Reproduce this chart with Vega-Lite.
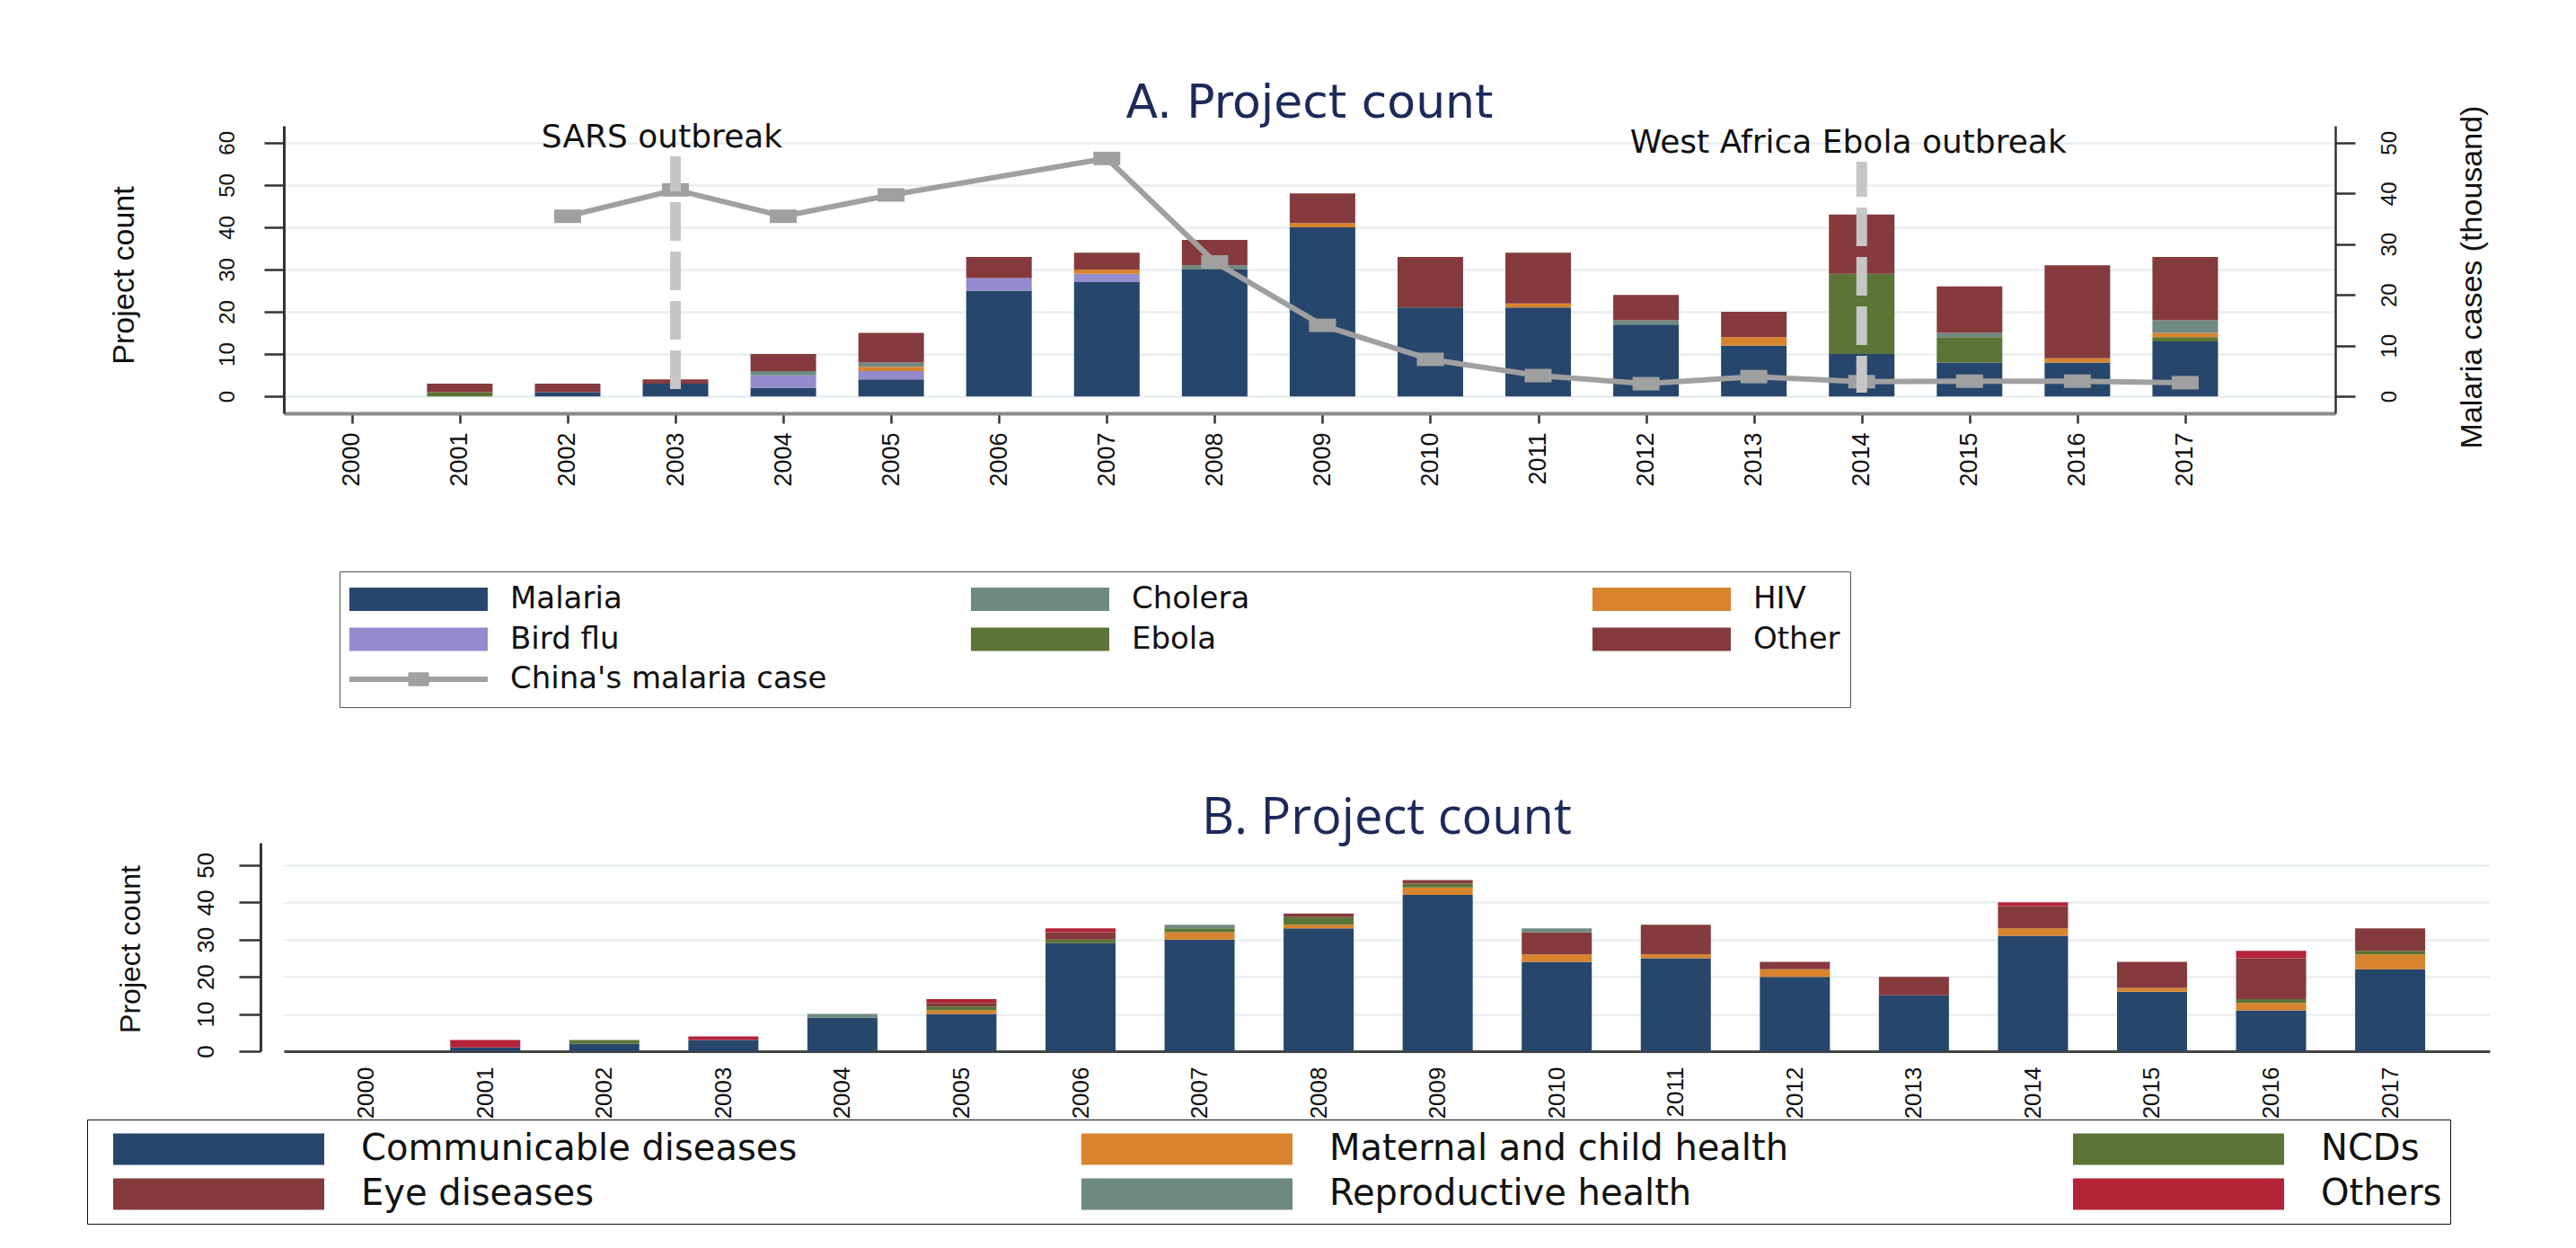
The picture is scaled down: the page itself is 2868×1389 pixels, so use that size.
{
  "$schema": "https://vega.github.io/schema/vega-lite/v6.json",
  "background": "white",
  "padding": {"left": 96, "top": 89, "right": 30, "bottom": 20},
  "bounds": "flush",
  "spacing": 478,
  "config": {
    "view": {"stroke": null},
    "font": "Liberation Sans",
    "axis": {"labelFont": "Liberation Sans", "titleFont": "Liberation Sans", "labelColor": "#111111", "titleColor": "#111111", "titleFontWeight": "normal", "labelOverlap": false, "labelFlush": false}
  },
  "resolve": {"scale": {"color": "independent"}, "legend": {"color": "independent"}},
  "datasets": {
    "rankA": [
      {"disease": "Malaria", "rank": 1}, {"disease": "Bird flu", "rank": 2}, {"disease": "Ebola", "rank": 3},
      {"disease": "HIV", "rank": 4}, {"disease": "Cholera", "rank": 5}, {"disease": "Other", "rank": 6}
    ],
    "rankB": [
      {"area": "Communicable diseases", "rank": 1}, {"area": "Maternal and child health", "rank": 2}, {"area": "NCDs", "rank": 3},
      {"area": "Eye diseases", "rank": 4}, {"area": "Reproductive health", "rank": 5}, {"area": "Others", "rank": 6}
    ],
    "projectsA": [
      {"year": 2001, "disease": "Ebola", "n": 1}, {"year": 2001, "disease": "Other", "n": 2},
      {"year": 2002, "disease": "Malaria", "n": 1}, {"year": 2002, "disease": "Other", "n": 2},
      {"year": 2003, "disease": "Malaria", "n": 3}, {"year": 2003, "disease": "Other", "n": 1},
      {"year": 2004, "disease": "Malaria", "n": 2}, {"year": 2004, "disease": "Bird flu", "n": 3}, {"year": 2004, "disease": "Cholera", "n": 1}, {"year": 2004, "disease": "Other", "n": 4},
      {"year": 2005, "disease": "Malaria", "n": 4}, {"year": 2005, "disease": "Bird flu", "n": 2}, {"year": 2005, "disease": "HIV", "n": 1}, {"year": 2005, "disease": "Cholera", "n": 1}, {"year": 2005, "disease": "Other", "n": 7},
      {"year": 2006, "disease": "Malaria", "n": 25}, {"year": 2006, "disease": "Bird flu", "n": 3}, {"year": 2006, "disease": "Other", "n": 5},
      {"year": 2007, "disease": "Malaria", "n": 27}, {"year": 2007, "disease": "Bird flu", "n": 2}, {"year": 2007, "disease": "HIV", "n": 1}, {"year": 2007, "disease": "Other", "n": 4},
      {"year": 2008, "disease": "Malaria", "n": 30}, {"year": 2008, "disease": "Cholera", "n": 1}, {"year": 2008, "disease": "Other", "n": 6},
      {"year": 2009, "disease": "Malaria", "n": 40}, {"year": 2009, "disease": "HIV", "n": 1}, {"year": 2009, "disease": "Other", "n": 7},
      {"year": 2010, "disease": "Malaria", "n": 21}, {"year": 2010, "disease": "Other", "n": 12},
      {"year": 2011, "disease": "Malaria", "n": 21}, {"year": 2011, "disease": "HIV", "n": 1}, {"year": 2011, "disease": "Other", "n": 12},
      {"year": 2012, "disease": "Malaria", "n": 17}, {"year": 2012, "disease": "Cholera", "n": 1}, {"year": 2012, "disease": "Other", "n": 6},
      {"year": 2013, "disease": "Malaria", "n": 12}, {"year": 2013, "disease": "HIV", "n": 2}, {"year": 2013, "disease": "Other", "n": 6},
      {"year": 2014, "disease": "Malaria", "n": 10}, {"year": 2014, "disease": "Ebola", "n": 19}, {"year": 2014, "disease": "Other", "n": 14},
      {"year": 2015, "disease": "Malaria", "n": 8}, {"year": 2015, "disease": "Ebola", "n": 6}, {"year": 2015, "disease": "Cholera", "n": 1}, {"year": 2015, "disease": "Other", "n": 11},
      {"year": 2016, "disease": "Malaria", "n": 8}, {"year": 2016, "disease": "HIV", "n": 1}, {"year": 2016, "disease": "Other", "n": 22},
      {"year": 2017, "disease": "Malaria", "n": 13}, {"year": 2017, "disease": "Ebola", "n": 1}, {"year": 2017, "disease": "HIV", "n": 1}, {"year": 2017, "disease": "Cholera", "n": 3}, {"year": 2017, "disease": "Other", "n": 15}
    ],
    "malaria": [
      {"year": 2002, "cases": 35.5, "disease": "China's malaria case"},
      {"year": 2003, "cases": 40.7, "disease": "China's malaria case"},
      {"year": 2004, "cases": 35.5, "disease": "China's malaria case"},
      {"year": 2005, "cases": 39.7, "disease": "China's malaria case"},
      {"year": 2007, "cases": 46.9, "disease": "China's malaria case"},
      {"year": 2008, "cases": 26.5, "disease": "China's malaria case"},
      {"year": 2009, "cases": 14.0, "disease": "China's malaria case"},
      {"year": 2010, "cases": 7.3, "disease": "China's malaria case"},
      {"year": 2011, "cases": 4.1, "disease": "China's malaria case"},
      {"year": 2012, "cases": 2.5, "disease": "China's malaria case"},
      {"year": 2013, "cases": 3.9, "disease": "China's malaria case"},
      {"year": 2014, "cases": 2.9, "disease": "China's malaria case"},
      {"year": 2015, "cases": 3.0, "disease": "China's malaria case"},
      {"year": 2016, "cases": 3.0, "disease": "China's malaria case"},
      {"year": 2017, "cases": 2.7, "disease": "China's malaria case"}
    ],
    "events": [
      {"year": 2003, "from": 1.3, "to": 56.8, "label": "SARS outbreak"},
      {"year": 2014, "from": 0.9, "to": 55.5, "label": "West Africa Ebola outbreak"}
    ],
    "projectsB": [
      {"year": 2001, "area": "Communicable diseases", "n": 1}, {"year": 2001, "area": "Others", "n": 2},
      {"year": 2002, "area": "Communicable diseases", "n": 2}, {"year": 2002, "area": "NCDs", "n": 1},
      {"year": 2003, "area": "Communicable diseases", "n": 3}, {"year": 2003, "area": "Others", "n": 1},
      {"year": 2004, "area": "Communicable diseases", "n": 9}, {"year": 2004, "area": "Reproductive health", "n": 1},
      {"year": 2005, "area": "Communicable diseases", "n": 10}, {"year": 2005, "area": "Maternal and child health", "n": 1}, {"year": 2005, "area": "NCDs", "n": 1}, {"year": 2005, "area": "Eye diseases", "n": 1}, {"year": 2005, "area": "Others", "n": 1},
      {"year": 2006, "area": "Communicable diseases", "n": 29}, {"year": 2006, "area": "NCDs", "n": 1}, {"year": 2006, "area": "Eye diseases", "n": 2}, {"year": 2006, "area": "Others", "n": 1},
      {"year": 2007, "area": "Communicable diseases", "n": 30}, {"year": 2007, "area": "Maternal and child health", "n": 2}, {"year": 2007, "area": "NCDs", "n": 1}, {"year": 2007, "area": "Reproductive health", "n": 1},
      {"year": 2008, "area": "Communicable diseases", "n": 33}, {"year": 2008, "area": "Maternal and child health", "n": 1}, {"year": 2008, "area": "NCDs", "n": 2}, {"year": 2008, "area": "Eye diseases", "n": 1},
      {"year": 2009, "area": "Communicable diseases", "n": 42}, {"year": 2009, "area": "Maternal and child health", "n": 2}, {"year": 2009, "area": "NCDs", "n": 1}, {"year": 2009, "area": "Eye diseases", "n": 1},
      {"year": 2010, "area": "Communicable diseases", "n": 24}, {"year": 2010, "area": "Maternal and child health", "n": 2}, {"year": 2010, "area": "Eye diseases", "n": 6}, {"year": 2010, "area": "Reproductive health", "n": 1},
      {"year": 2011, "area": "Communicable diseases", "n": 25}, {"year": 2011, "area": "Maternal and child health", "n": 1}, {"year": 2011, "area": "Eye diseases", "n": 8},
      {"year": 2012, "area": "Communicable diseases", "n": 20}, {"year": 2012, "area": "Maternal and child health", "n": 2}, {"year": 2012, "area": "Eye diseases", "n": 2},
      {"year": 2013, "area": "Communicable diseases", "n": 15}, {"year": 2013, "area": "Eye diseases", "n": 5},
      {"year": 2014, "area": "Communicable diseases", "n": 31}, {"year": 2014, "area": "Maternal and child health", "n": 2}, {"year": 2014, "area": "Eye diseases", "n": 6}, {"year": 2014, "area": "Others", "n": 1},
      {"year": 2015, "area": "Communicable diseases", "n": 16}, {"year": 2015, "area": "Maternal and child health", "n": 1}, {"year": 2015, "area": "Eye diseases", "n": 7},
      {"year": 2016, "area": "Communicable diseases", "n": 11}, {"year": 2016, "area": "Maternal and child health", "n": 2}, {"year": 2016, "area": "NCDs", "n": 1}, {"year": 2016, "area": "Eye diseases", "n": 11}, {"year": 2016, "area": "Others", "n": 2},
      {"year": 2017, "area": "Communicable diseases", "n": 22}, {"year": 2017, "area": "Maternal and child health", "n": 4}, {"year": 2017, "area": "NCDs", "n": 1}, {"year": 2017, "area": "Eye diseases", "n": 6}
    ]
  },
  "vconcat": [
    {
      "width": 2284,
      "height": 320,
      "title": {"text": "A. Project count", "font": "DejaVu Sans", "fontSize": 52, "fontWeight": "normal", "color": "#1c2a5a", "anchor": "middle", "baseline": "alphabetic", "offset": -66},
      "resolve": {"scale": {"y": "independent"}},
      "layer": [
        {
          "data": {"name": "projectsA"},
          "transform": [{"lookup": "disease", "from": {"data": {"name": "rankA"}, "key": "disease", "fields": ["rank"]}}],
          "mark": {"type": "bar", "width": 73},
          "encoding": {
            "x": {
              "field": "year", "type": "quantitative",
              "scale": {"domain": [1999.41, 2018.35], "nice": false, "zero": false},
              "axis": {"values": [2000, 2001, 2002, 2003, 2004, 2005, 2006, 2007, 2008, 2009, 2010, 2011, 2012, 2013, 2014, 2015, 2016, 2017], "format": "d", "title": null, "grid": false, "labelAngle": 270, "labelAlign": "right", "labelBaseline": "middle", "labelFontSize": 27, "labelPadding": 10, "tickSize": 11, "tickWidth": 2.5, "tickColor": "#333333", "domainColor": "#8a8a8a", "domainWidth": 4}
            },
            "y": {
              "field": "n", "type": "quantitative", "stack": "zero",
              "scale": {"domain": [-4, 64], "nice": false, "zero": false},
              "axis": {"orient": "left", "values": [0, 10, 20, 30, 40, 50, 60], "title": "Project count", "titleFontSize": 34, "titleAngle": 270, "titleX": -178, "titleY": 166, "titleBaseline": "middle", "titleAlign": "center", "labelAngle": 270, "labelAlign": "center", "labelBaseline": "alphabetic", "labelFontSize": 24, "labelPadding": 34, "tickSize": 22, "tickWidth": 2.5, "tickColor": "#333333", "domainColor": "#333333", "domainWidth": 3, "grid": true, "gridColor": "#e8eff1", "gridWidth": 2.5}
            },
            "color": {
              "field": "disease", "type": "nominal",
              "scale": {"domain": ["Malaria", "Bird flu", "Ebola", "HIV", "Cholera", "Other", "China's malaria case"], "range": ["#27466b", "#938bce", "#5a7535", "#d8832e", "#6f8a80", "#853a3e", "#a0a0a0"]},
              "legend": {
                "values": ["Malaria", "Cholera", "HIV", "Bird flu", "Ebola", "Other", "China's malaria case"],
                "orient": "none", "legendX": 62, "legendY": 496,
                "direction": "horizontal", "columns": 3, "gridAlign": "all",
                "title": null,
                "symbolType": "M-1,-0.169L1,-0.169L1,0.169L-1,0.169Z",
                "symbolSize": 23716,
                "symbolStrokeWidth": 0,
                "clipHeight": 40,
                "rowPadding": 4.5, "columnPadding": 160,
                "labelOffset": 25, "labelFont": "DejaVu Sans", "labelFontSize": 34, "labelColor": "#111111", "labelLimit": 2000,
                "padding": 11, "strokeColor": "#555555",
                "encode": {
                  "symbols": {"update": {
                    "shape": {"signal": "datum.value === \"China's malaria case\" ? 'M-1,-0.039L1,-0.039L1,0.039L-1,0.039Z M-0.15,-0.1L0.15,-0.1L0.15,0.1L-0.15,0.1Z' : 'M-1,-0.169L1,-0.169L1,0.169L-1,0.169Z'"},
                    "strokeWidth": {"value": 0},
                    "opacity": {"value": 1}
                  }}
                }
              }
            },
            "order": {"field": "rank", "type": "quantitative", "sort": "ascending"}
          }
        },
        {
          "data": {"name": "malaria"},
          "mark": {"type": "line", "strokeWidth": 6, "point": {"shape": "M-1,-0.5L1,-0.5L1,0.5L-1,0.5Z", "size": 900, "filled": true}},
          "encoding": {
            "x": {"field": "year", "type": "quantitative", "scale": {"domain": [1999.41, 2018.35], "nice": false, "zero": false}},
            "y": {
              "field": "cases", "type": "quantitative",
              "scale": {"domain": [-3.3333, 53.3333], "nice": false, "zero": false},
              "axis": {"orient": "right", "values": [0, 10, 20, 30, 40, 50], "title": "Malaria cases (thousand)", "titleFontSize": 34, "titleAngle": 270, "titleX": 152, "titleY": 168, "titleBaseline": "middle", "titleAlign": "center", "labelAngle": 270, "labelAlign": "center", "labelBaseline": "alphabetic", "labelFontSize": 24, "labelPadding": 45, "tickSize": 22, "tickWidth": 2.5, "tickColor": "#333333", "domainColor": "#333333", "domainWidth": 2.5, "grid": false}
            },
            "color": {"field": "disease", "type": "nominal"}
          }
        },
        {
          "data": {"name": "events"},
          "layer": [
            {
              "mark": {"type": "rule", "strokeWidth": 12, "color": "#c6c6c6", "strokeDash": [43, 12], "strokeDashOffset": 4},
              "encoding": {
                "x": {"field": "year", "type": "quantitative", "scale": {"domain": [1999.41, 2018.35], "nice": false, "zero": false}},
                "y": {"field": "to", "type": "quantitative", "scale": {"domain": [-4, 64], "nice": false, "zero": false}, "axis": null},
                "y2": {"field": "from"}
              }
            },
            {
              "mark": {"type": "text", "font": "DejaVu Sans", "fontSize": 36, "baseline": "alphabetic", "align": "center", "dy": -10, "dx": -15, "color": "#111111"},
              "encoding": {
                "x": {"field": "year", "type": "quantitative"},
                "y": {"field": "to", "type": "quantitative"},
                "text": {"field": "label"}
              }
            }
          ]
        }
      ]
    },
    {
      "width": 2456,
      "height": 232,
      "title": {"text": "B. Project count", "font": "Open Sans", "fontSize": 56, "fontWeight": "normal", "color": "#1c2a5a", "anchor": "middle", "baseline": "alphabetic", "offset": -46},
      "data": {"name": "projectsB"},
      "transform": [{"lookup": "area", "from": {"data": {"name": "rankB"}, "key": "area", "fields": ["rank"]}}],
      "mark": {"type": "bar", "width": 78},
      "encoding": {
        "x": {
          "field": "year", "type": "quantitative",
          "scale": {"domain": [1999.346, 2017.799], "nice": false, "zero": false},
          "axis": {"values": [2000, 2001, 2002, 2003, 2004, 2005, 2006, 2007, 2008, 2009, 2010, 2011, 2012, 2013, 2014, 2015, 2016, 2017], "format": "d", "title": null, "grid": false, "labelAngle": 270, "labelAlign": "right", "labelBaseline": "middle", "labelFontSize": 26, "labelPadding": 17, "ticks": false, "tickSize": 0, "domainColor": "#444444", "domainWidth": 3}
        },
        "y": {
          "field": "n", "type": "quantitative", "stack": "zero",
          "scale": {"domain": [0, 56], "nice": false, "zero": false},
          "axis": {"offset": 26, "values": [0, 10, 20, 30, 40, 50], "title": "Project count", "titleFontSize": 32, "titleAngle": 270, "titleX": -145, "titleY": 118, "titleBaseline": "middle", "titleAlign": "center", "labelAngle": 270, "labelAlign": "center", "labelBaseline": "alphabetic", "labelFontSize": 26, "labelPadding": 29, "tickSize": 24, "tickWidth": 2.5, "tickColor": "#333333", "domainColor": "#333333", "domainWidth": 3, "grid": true, "gridColor": "#e8eff1", "gridWidth": 2.5}
        },
        "color": {
          "field": "area", "type": "nominal",
          "scale": {"domain": ["Communicable diseases", "Maternal and child health", "NCDs", "Eye diseases", "Reproductive health", "Others"], "range": ["#27466b", "#d8832e", "#5a7535", "#853a3e", "#6f8a80", "#b42338"]},
          "legend": {
            "orient": "none", "legendX": -219, "legendY": 308,
            "direction": "horizontal", "columns": 3, "gridAlign": "each",
            "title": null,
            "symbolType": "M-1,-0.149L1,-0.149L1,0.149L-1,0.149Z",
            "symbolSize": 55225,
            "symbolStrokeWidth": 0,
            "symbolOffset": 20,
            "clipHeight": 48,
            "rowPadding": 2, "columnPadding": 296,
            "labelOffset": 41, "labelFont": "DejaVu Sans", "labelFontSize": 40, "labelColor": "#111111", "labelLimit": 2000,
            "padding": 9, "strokeColor": "#111111",
            "encode": {"symbols": {"update": {"opacity": {"value": 1}}}}
          }
        },
        "order": {"field": "rank", "type": "quantitative", "sort": "ascending"}
      }
    }
  ]
}
